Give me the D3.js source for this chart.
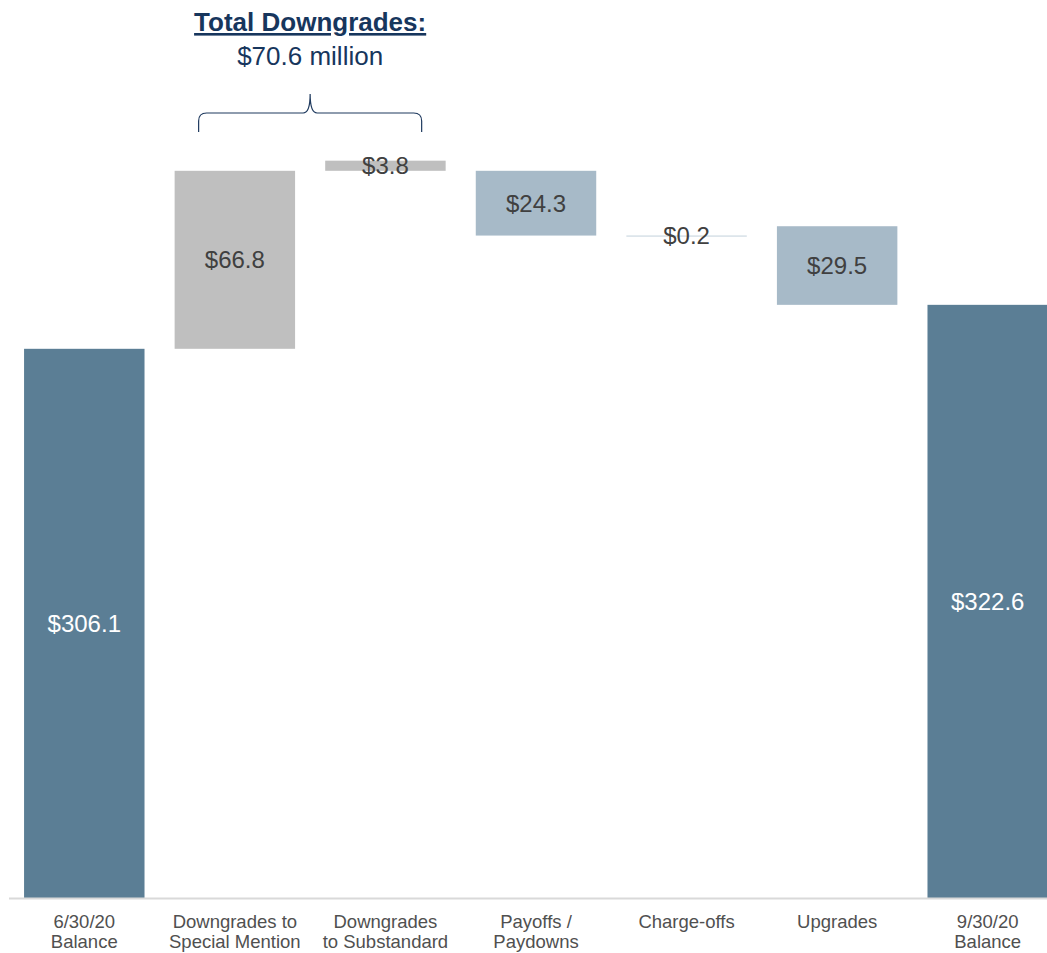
<!DOCTYPE html>
<html>
<head>
<meta charset="utf-8">
<script src="https://cdn.jsdelivr.net/npm/d3@7"></script>
<style>
  body { margin: 0; background: #fff; }
  svg text { font-family: "Liberation Sans", Arial, sans-serif; }
</style>
</head>
<body>
<svg id="chart" width="1047" height="953"></svg>
<script>
// data (balances in $ millions)
var categories = ["6/30/20|Balance", "Downgrades to|Special Mention", "Downgrades|to Substandard",
                  "Payoffs /|Paydowns", "Charge-offs", "Upgrades", "9/30/20|Balance"];
var labels = ["$306.1", "$66.8", "$3.8", "$24.3", "$0.2", "$29.5", "$322.6"];
// bottom and top of each floating bar, as drawn in the original
var barLow  = [100, 306.1, 372.9, 348.6, 348.4, 322.6, 100];
var barHigh = [306.1, 372.9, 376.7, 372.9, 348.6, 352.1, 322.6];
var barKind = ["total", "down", "down", "flow", "line", "flow", "total"];
var yDomain = [100, 437];

var colors = { total: "#5b7e95", down: "#bfbfbf", flow: "#a7bac8", line: "#c3d1dc" };

var svg = d3.select("#chart");
var height = 898;

var x = d3.scaleBand()
    .domain(d3.range(categories.length))
    .range([9, 1063])
    .paddingInner(0.2)
    .paddingOuter(0.1);

var y = d3.scaleLinear().domain(yDomain).range([height, 0]);

// bars
svg.selectAll("rect.bar")
  .data(categories)
  .enter().append("rect")
    .attr("class", "bar")
    .attr("x", function(d, i) { return x(i); })
    .attr("width", x.bandwidth())
    .attr("y", function(d, i) { return y(barHigh[i]); })
    .attr("height", function(d, i) { return Math.max(1, y(barLow[i]) - y(barHigh[i])); })
    .style("fill", function(d, i) { return colors[barKind[i]]; });

// axis line
svg.append("line")
    .attr("x1", 9).attr("x2", 1047)
    .attr("y1", height + 0.5).attr("y2", height + 0.5)
    .style("stroke", "#d9d9d9").style("stroke-width", 2);

// value labels
svg.selectAll("text.val")
  .data(labels)
  .enter().append("text")
    .attr("class", "val")
    .attr("x", function(d, i) { return x(i) + x.bandwidth() / 2; })
    .attr("y", function(d, i) { return (y(barLow[i]) + y(barHigh[i])) / 2; })
    .attr("dy", "0.36em")
    .attr("text-anchor", "middle")
    .style("font-size", "24px")
    .style("fill", function(d, i) { return barKind[i] == "total" ? "#fff" : "#404040"; })
    .text(function(d) { return d; });

// category labels
svg.selectAll("text.cat")
  .data(categories)
  .enter().append("text")
    .attr("class", "cat")
    .attr("text-anchor", "middle")
    .style("font-size", "18.5px")
    .style("fill", "#505050")
    .html(function(d, i) {
      var cx = x(i) + x.bandwidth() / 2;
      return d.split("|").map(function(s, k) {
        return "<tspan x='" + cx + "' y='" + (928 + k * 20) + "'>" + s + "</tspan>";
      }).join("");
    });

// bracket over the two downgrade bars
var bx0 = x(1) + 24, bx1 = x(2) + x.bandwidth() - 24, bmid = (bx0 + bx1) / 2;
svg.append("path")
    .attr("d", "M" + bx0 + ",132 L" + bx0 + ",121 Q" + bx0 + ",113 " + (bx0 + 8) + ",113" +
               " L" + (bmid - 7) + ",113 Q" + bmid + ",113 " + bmid + ",94" +
               " Q" + bmid + ",113 " + (bmid + 7) + ",113 L" + (bx1 - 8) + ",113" +
               " Q" + bx1 + ",113 " + bx1 + ",121 L" + bx1 + ",132")
    .style("fill", "none").style("stroke", "#1f3a5f").style("stroke-width", 1.2);

svg.append("text")
    .attr("x", bmid).attr("y", 31)
    .attr("text-anchor", "middle")
    .style("font-size", "26px").style("font-weight", "bold")
    .style("fill", "#17365d").style("text-decoration", "underline")
    .text("Total Downgrades:");

svg.append("text")
    .attr("x", bmid).attr("y", 65)
    .attr("text-anchor", "middle")
    .style("font-size", "26px")
    .style("fill", "#17365d")
    .text("$70.6 million");
</script>
</body>
</html>
